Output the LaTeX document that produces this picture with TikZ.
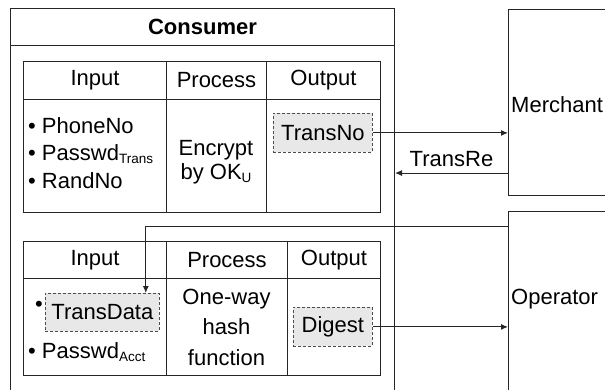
\documentclass[tikz,border=0pt]{standalone}
\usepackage{fontspec}
\setmainfont{Liberation Sans}
\usetikzlibrary{arrows.meta}
\newcommand{\subtxt}[1]{\raisebox{-2.5pt}{\fontsize{13.5}{14}\selectfont #1}}
\begin{document}
\begin{tikzpicture}[x=1pt,y=-1pt, font=\fontsize{22}{26}\selectfont,
  ln/.style={line width=1pt, draw=black!85},
  cell/.style={ln, rectangle, inner sep=0pt, anchor=north west},
  dbox/.style={draw=black!70, dash pattern=on 3pt off 2pt, line width=0.8pt, fill=black!9, inner sep=0pt, anchor=north west},
  arr/.style={ln, -{Latex[length=7pt,width=6pt]}},
  txt/.style={inner sep=0pt}]
\clip (0,0) rectangle (605,389);
% Consumer
\node[cell, minimum width=384, minimum height=420] (consumer) at (10,8) {};
\node[cell, minimum width=384, minimum height=37] (chead) at (10,8) {\bfseries Consumer};
% top table
\node[cell, minimum width=143, minimum height=38] (i1h) at (23,61) {Input};
\node[cell, minimum width=100, minimum height=38] (p1h) at (166,61) {Process};
\node[cell, minimum width=114, minimum height=38] (o1h) at (266,61) {Output};
\node[cell, minimum width=143, minimum height=113] (i1b) at (23,99) {};
\node[cell, minimum width=100, minimum height=113] (p1b) at (166,99) {};
\node[cell, minimum width=114, minimum height=113] (o1b) at (266,99) {};
\node[txt, anchor=north west, align=left, font=\fontsize{22}{27.5}\selectfont] (list1) at (28,117) {\textbullet\ PhoneNo\\\textbullet\ Passwd\subtxt{Trans}\\\textbullet\ RandNo};
\node[txt, align=center, font=\fontsize{22}{24.5}\selectfont] (enc) at (216,162) {Encrypt\\by OK\subtxt{U}};
\node[dbox, minimum width=99, minimum height=39] (transno) at (273,113) {TransNo};
% bottom table
\node[cell, minimum width=143, minimum height=37] (i2h) at (23,241) {Input};
\node[cell, minimum width=121, minimum height=37] (p2h) at (166,241) {Process};
\node[cell, minimum width=93, minimum height=37] (o2h) at (287,241) {Output};
\node[cell, minimum width=143, minimum height=97] (i2b) at (23,278) {};
\node[cell, minimum width=121, minimum height=97] (p2b) at (166,278) {};
\node[cell, minimum width=93, minimum height=97] (o2b) at (287,278) {};
\node[txt, font=\fontsize{22}{26}\selectfont] (b1) at (39,306) {\textbullet};
\node[dbox, minimum width=114, minimum height=38] (transdata) at (45,293) {TransData};
\node[txt, anchor=west] (pacct) at (28,352) {\textbullet\ Passwd\subtxt{Acct}};
\node[txt, align=center, font=\fontsize{22}{30.5}\selectfont] (hash) at (226.5,327) {One-way\\hash\\function};
\node[dbox, minimum width=79, minimum height=39] (digest) at (293,307) {Digest};
% right boxes
\node[cell, minimum width=120, minimum height=186] (merchant) at (508,9) {};
\node[txt, anchor=west] (mtxt) at (511,105) {Merchant};
\node[cell, minimum width=120, minimum height=200] (operator) at (508,211) {};
\node[txt, anchor=west] (otxt) at (511,299) {Operator};
% connectors
\draw[arr] (transno.east) -- (transno.east -| merchant.west);
\coordinate (trre) at (508,173);
\draw[arr] (trre) -- (trre -| consumer.east) node[midway, above=6pt, txt] (trlab) {TransRe};
\coordinate (opin) at (508,226);
\coordinate (tdtop) at ([xshift=-14pt]transdata.north east);
\draw[arr] (opin) -| (tdtop);
\draw[arr] (digest.east) -- (digest.east -| operator.west);
\end{tikzpicture}
\end{document}
